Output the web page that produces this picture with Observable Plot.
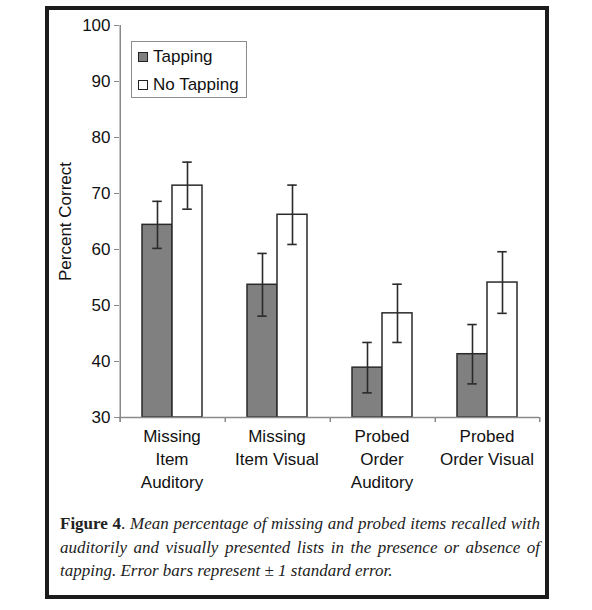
<!DOCTYPE html>
<html>
<head>
<meta charset="utf-8">
<script src="https://cdn.jsdelivr.net/npm/d3@7"></script>
<script src="https://cdn.jsdelivr.net/npm/@observablehq/plot@0.6"></script>
<style>
  html, body { margin: 0; padding: 0; background: #fff; }
  body { width: 592px; height: 610px; position: relative; overflow: hidden; }
  #frame { position: absolute; left: 45px; top: 6px; width: 504px; height: 593px; box-sizing: border-box; border: 4px solid #1c1c1c; background: #fff; }
  #chart { position: absolute; left: 0; top: 0; }
  #legend { position: absolute; left: 82px; top: 31px; width: 116px; height: 57px; box-sizing: border-box; border: 1px solid #8c8c8c; font-family: "Liberation Sans", Arial, sans-serif; font-size: 17px; color: #111; }
  .sw { position: absolute; left: 6px; width: 10px; height: 10px; box-sizing: border-box; border: 1px solid #222; }
  .lt { position: absolute; left: 21px; line-height: 17px; }
  #caption { position: absolute; left: 11px; top: 502px; width: 480px; font-family: "Liberation Serif", "Times New Roman", serif; font-size: 17px; line-height: 23.5px; color: #222; }
  #caption .line { display: block; text-align: justify; text-align-last: justify; }
  #caption .last { display: block; }
  #caption b { font-weight: bold; font-style: normal; }
</style>
</head>
<body>
<div id="frame">
  <div id="chart"></div>
  <div id="legend"></div>
  <div id="caption">
    <span class="line"><b>Figure 4</b>. <i>Mean percentage of missing and probed items recalled with</i></span>
    <span class="line"><i>auditorily and visually presented lists in the presence or absence of</i></span>
    <span class="last"><i>tapping. Error bars represent ± 1 standard error.</i></span>
  </div>
</div>
<script>
// ---- data ----
const categories = ["Missing Item Auditory", "Missing Item Visual", "Probed Order Auditory", "Probed Order Visual"];
const categoryLabels = ["Missing\nItem\nAuditory", "Missing\nItem Visual", "Probed\nOrder\nAuditory", "Probed\nOrder Visual"];
const conditions = ["Tapping", "No Tapping"];
const tappingMeans = [64.4, 53.7, 38.9, 41.3];
const tappingSE = [4.2, 5.6, 4.5, 5.3];
const noTappingMeans = [71.4, 66.2, 48.6, 54.1];
const noTappingSE = [4.2, 5.3, 5.2, 5.5];
const yTicks = [30, 40, 50, 60, 70, 80, 90, 100];
const yDomain = [30, 100];
const colors = ["#808080", "#ffffff"];

// ---- table ----
const rows = [];
categories.forEach((c, i) => {
  rows.push({category: c, condition: conditions[0], mean: tappingMeans[i], se: tappingSE[i]});
  rows.push({category: c, condition: conditions[1], mean: noTappingMeans[i], se: noTappingSE[i]});
});

const labelOf = new Map(categories.map((c, i) => [c, categoryLabels[i]]));
const axisGray = "#8a8a8a";
const ink = "#2a2a2a";

const W = 495, H = 490, mL = 70, mR = 5, mT = 15, mB = 83;
const facetW = (W - mL - mR) / categories.length;
const padOuter = 0.72;
const step = facetW / (conditions.length + 2 * padOuter);
const edge = step * padOuter + step / 2;

const chart = Plot.plot({
  width: W,
  height: H,
  marginLeft: mL,
  marginRight: mR,
  marginTop: mT,
  marginBottom: mB,
  style: {fontFamily: "'Liberation Sans', Arial, sans-serif", fontSize: "17px", color: "#111", background: "transparent"},
  fx: {domain: categories, padding: 0, label: null},
  x: {domain: conditions, paddingInner: 0, paddingOuter: padOuter, axis: null},
  y: {domain: yDomain, label: null},
  color: {domain: conditions, range: colors},
  marks: [
    Plot.barY(rows, {fx: "category", x: "condition", y1: yDomain[0], y2: "mean", fill: "condition", stroke: ink, strokeWidth: 1.5}),
    Plot.ruleX(rows, {fx: "category", x: "condition", y1: d => d.mean - d.se, y2: d => d.mean + d.se, stroke: ink, strokeWidth: 1.6}),
    Plot.tickY(rows, {fx: "category", x: "condition", y: d => d.mean + d.se, stroke: ink, strokeWidth: 1.6, insetLeft: (step - 10) / 2, insetRight: (step - 10) / 2}),
    Plot.tickY(rows, {fx: "category", x: "condition", y: d => d.mean - d.se, stroke: ink, strokeWidth: 1.6, insetLeft: (step - 10) / 2, insetRight: (step - 10) / 2}),
    Plot.ruleY([yDomain[0]], {stroke: axisGray, strokeWidth: 1.5}),
    Plot.ruleX([categories[0]], {fx: d => d, x: () => conditions[0], y1: yDomain[1], y2: yDomain[0], dx: -edge, stroke: axisGray, strokeWidth: 1.5, insetBottom: -5}),
    Plot.ruleX(categories, {fx: d => d, x: () => conditions[0], y1: yDomain[0], y2: yDomain[0], dx: -edge, stroke: axisGray, strokeWidth: 1.5, insetBottom: -5}),
    Plot.ruleX([categories[categories.length - 1]], {fx: d => d, x: () => conditions[1], y1: yDomain[0], y2: yDomain[0], dx: edge, stroke: axisGray, strokeWidth: 1.5, insetBottom: -5}),
    Plot.axisY({ticks: yTicks, tickSize: 5, tickPadding: 4, stroke: axisGray, fill: "#111", fontSize: 17, label: "Percent Correct", labelAnchor: "center", labelOffset: 61, labelArrow: "none"}),
    Plot.axisFx({anchor: "bottom", tickSize: 0, tickPadding: 8, fontSize: 17, lineHeight: 1.35, fill: "#111", tickFormat: d => labelOf.get(d), label: null})
  ]
});
document.getElementById("chart").appendChild(chart);

// ---- legend ----
const legend = document.getElementById("legend");
conditions.forEach((c, i) => {
  const sw = document.createElement("div");
  sw.className = "sw";
  sw.style.top = (10 + 28 * i) + "px";
  sw.style.background = colors[i];
  legend.appendChild(sw);
  const t = document.createElement("div");
  t.className = "lt";
  t.style.top = (6 + 28 * i) + "px";
  t.textContent = c;
  legend.appendChild(t);
});
</script>
</body>
</html>
